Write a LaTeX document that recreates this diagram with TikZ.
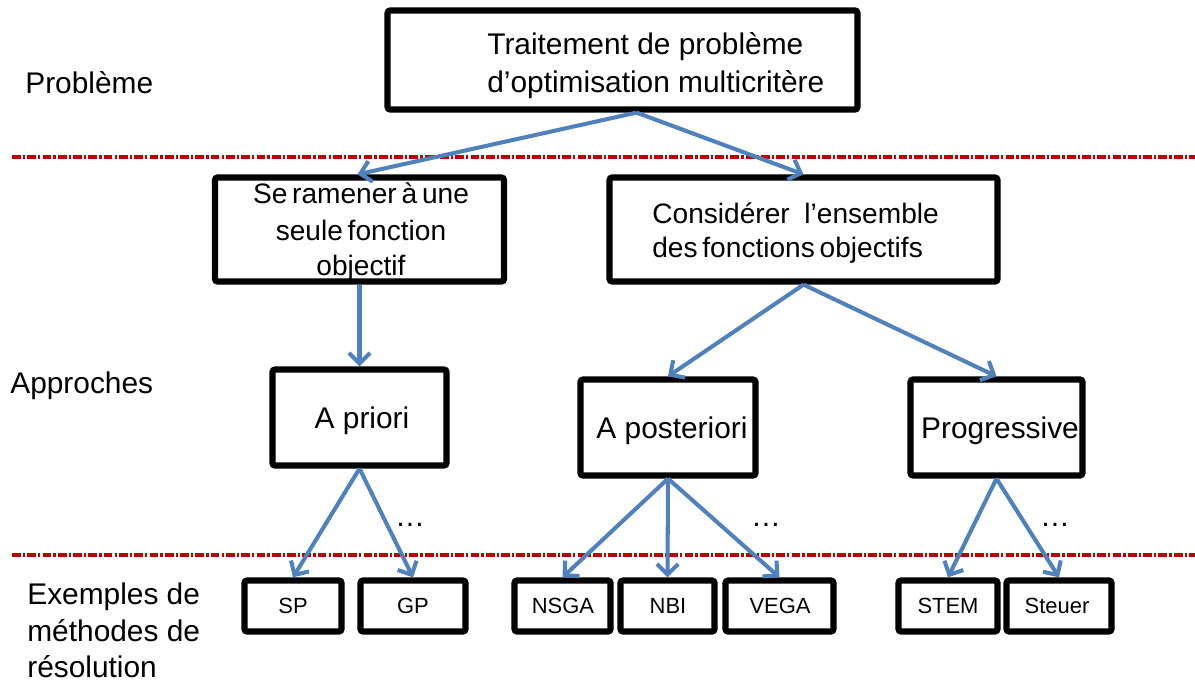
\documentclass[tikz,border=0pt]{standalone}
\usepackage{fontspec}
\setmainfont{Liberation Sans}
\usetikzlibrary{arrows.meta,calc}
\definecolor{flowblue}{HTML}{4F81BD}
\definecolor{sepred}{HTML}{C00000}
% narrower word gaps for the longer box captions
\newcommand\tightgaps{\spaceskip=0.17em plus 0.05em\relax}
\begin{document}
\begin{tikzpicture}[x=0.02cm,y=-0.02cm,
  box/.style={draw=black, line width=0.125cm, rounded corners=1.5pt, fill=white, inner sep=0pt},
  bigtxt/.style={font=\fontsize{17}{20.5}\selectfont, inner sep=0pt},
  tighttxt/.style={font=\fontsize{16}{20.5}\selectfont, inner sep=0pt},
  smalltxt/.style={font=\fontsize{12.5}{15}\selectfont, inner sep=0pt},
  flow/.style={draw=flowblue, line width=2.3pt, -{Straight Barb[length=6pt,width=12pt]}},
  sep/.style={draw=sepred, line width=2.2pt, dash pattern=on 5pt off 1.2pt on 1.3pt off 1.2pt},
]
% canvas
\fill[white] (0,0) rectangle (1195,686);
\useasboundingbox (0,0) rectangle (1195,686);

% level separators
\draw[sep] (12,157) -- (1195,157);
\draw[sep] (12,555) -- (1195,555);

% row labels
\node[bigtxt, anchor=base west] (lprob) at (25,93) {Problème};
\node[bigtxt, anchor=base west] (lappr) at (10,393) {Approches};
\node[bigtxt, anchor=base west] (lex1) at (27,604) {Exemples de};
\node[bigtxt, anchor=base west] (lex2) at (27,641) {méthodes de};
\node[bigtxt, anchor=base west] (lex3) at (27,677) {résolution};

% boxes
\node[box, minimum width=9.4cm, minimum height=1.98cm] (top) at (622.5,60) {};
\node[box, minimum width=5.78cm, minimum height=2.08cm] (seul) at (359.5,229.5) {};
\node[box, minimum width=7.76cm, minimum height=2.08cm] (ens) at (803.5,229.5) {};
\node[box, minimum width=3.48cm, minimum height=1.92cm] (apriori) at (359.5,417.5) {};
\node[box, minimum width=3.5cm, minimum height=1.92cm] (apost) at (668,427.5) {};
\node[box, minimum width=3.44cm, minimum height=1.92cm] (prog) at (996.5,427.5) {};

\node[box, minimum width=1.94cm, minimum height=1.02cm] (sp) at (293,606) {};
\node[box, minimum width=2.1cm, minimum height=1.02cm] (gp) at (413,606) {};
\node[box, minimum width=1.92cm, minimum height=1.02cm] (nsga) at (562.5,606) {};
\node[box, minimum width=1.88cm, minimum height=1.02cm] (nbi) at (667.5,606) {};
\node[box, minimum width=2.16cm, minimum height=1.02cm] (vega) at (779.5,606) {};
\node[box, minimum width=1.98cm, minimum height=1.02cm] (stem) at (948,606) {};
\node[box, minimum width=2.1cm, minimum height=1.02cm] (steuer) at (1059,606) {};

% box texts
\node[bigtxt, anchor=base west] (ttop1) at (487,55) {Traitement de problème};
\node[bigtxt, anchor=base west] (ttop2) at (487,92) {d’optimisation multicritère};
\node[tighttxt, anchor=base] (tseul1) at (361,203) {\tightgaps Se ramener à une};
\node[tighttxt, anchor=base] (tseul2) at (361,240) {\tightgaps seule fonction};
\node[tighttxt, anchor=base] (tseul3) at (361,275) {objectif};
\node[tighttxt, anchor=base west] (tens1) at (652,223) {\tightgaps Considérer\hspace{0.35em} l’ensemble};
\node[tighttxt, anchor=base west] (tens2) at (652,257) {\tightgaps des fonctions objectifs};
\node[bigtxt, anchor=base] (tapriori) at (362,428) {A priori};
\node[bigtxt, anchor=base] (tapost) at (672,438) {A posteriori};
\node[bigtxt, anchor=base] (tprog) at (1000,438) {Progressive};

\node[smalltxt, anchor=base] (tsp) at (293,613) {SP};
\node[smalltxt, anchor=base] (tgp) at (413,613) {GP};
\node[smalltxt, anchor=base] (tnsga) at (563,613) {NSGA};
\node[smalltxt, anchor=base] (tnbi) at (668,613) {NBI};
\node[smalltxt, anchor=base] (tvega) at (780,613) {VEGA};
\node[smalltxt, anchor=base] (tstem) at (948,613) {STEM};
\node[smalltxt, anchor=base] (tsteuer) at (1057,613) {Steuer};

% omitted further methods
\node[bigtxt, anchor=base] (dots1) at (410,526) {\ldots};
\node[bigtxt, anchor=base] (dots2) at (766,526) {\ldots};
\node[bigtxt, anchor=base] (dots3) at (1055,526) {\ldots};

% connectors
\coordinate (topout) at ($(top.south)+(14,0)$);
\draw[flow] (topout) -- ($(seul.north)+(-2,0)$);
\draw[flow] (topout) -- (ens.north);
\draw[flow] (seul.south) -- (apriori.north);
\draw[flow] (ens.south) -- (apost.north);
\draw[flow] (ens.south) -- (prog.north);
\draw[flow] (apriori.south) -- (sp.north);
\draw[flow] (apriori.south) -- (gp.north);
\draw[flow] (apost.south) -- (nsga.north);
\draw[flow] (apost.south) -- (nbi.north);
\draw[flow] (apost.south) -- (vega.north);
\draw[flow] (prog.south) -- (stem.north);
\draw[flow] (prog.south) -- (steuer.north);
\end{tikzpicture}
\end{document}
